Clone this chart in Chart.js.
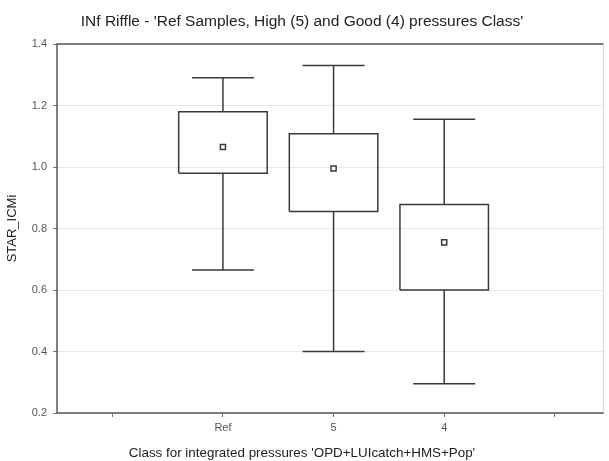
<!DOCTYPE html>
<html lang="en">
<head>
<meta charset="UTF-8">
<title>INf Riffle box plot</title>
<script src="https://cdn.jsdelivr.net/npm/chart.js"></script>
<style>
  html, body { margin: 0; padding: 0; background: #fff; }
  #wrap { width: 609px; height: 461px; }
</style>
</head>
<body>
<div id="wrap"><canvas id="boxChart"></canvas></div>
<script>
// data
const categories = ['Ref', '5', '4'];
const positions = [2, 3, 4];
const whiskerLow = [0.665, 0.40, 0.295];
const boxLow = [0.98, 0.855, 0.60];
const means = [1.065, 0.995, 0.755];
const boxHigh = [1.18, 1.108, 0.878];
const whiskerHigh = [1.29, 1.33, 1.155];
const xTickValues = [1, 2, 3, 4, 5];
const yTickValues = [0.2, 0.4, 0.6, 0.8, 1.0, 1.2, 1.4];

const boxHalf = 0.4;
const capHalf = 0.28;
const lineColor = '#3a3a3a';
const font = 'Liberation Sans, Arial, sans-serif';

// outline of each box with whiskers, gaps split the segments
function boxOutline(i) {
  const p = positions[i];
  const gap = { x: p, y: null };
  return [
    { x: p - boxHalf, y: boxLow[i] }, { x: p + boxHalf, y: boxLow[i] },
    { x: p + boxHalf, y: boxHigh[i] }, { x: p - boxHalf, y: boxHigh[i] },
    { x: p - boxHalf, y: boxLow[i] }, gap,
    { x: p, y: boxHigh[i] }, { x: p, y: whiskerHigh[i] }, gap,
    { x: p - capHalf, y: whiskerHigh[i] }, { x: p + capHalf, y: whiskerHigh[i] }, gap,
    { x: p, y: boxLow[i] }, { x: p, y: whiskerLow[i] }, gap,
    { x: p - capHalf, y: whiskerLow[i] }, { x: p + capHalf, y: whiskerLow[i] }
  ];
}

const datasets = categories.map((c, i) => ({
  label: c,
  data: boxOutline(i),
  showLine: true,
  spanGaps: false,
  borderColor: lineColor,
  borderWidth: 1.5,
  pointRadius: 0,
  fill: false
}));

datasets.push({
  label: 'mean',
  data: positions.map((p, i) => ({ x: p, y: means[i] })),
  pointStyle: 'rect',
  pointRadius: 3.6,
  pointBorderWidth: 1.5,
  pointBorderColor: lineColor,
  pointBackgroundColor: '#fff',
  showLine: false
});

const frame = {
  id: 'frame',
  afterDatasetsDraw(chart) {
    const a = chart.chartArea;
    const ctx = chart.ctx;
    ctx.save();
    ctx.strokeStyle = '#d8d8d8';
    ctx.lineWidth = 1;
    ctx.beginPath();
    ctx.moveTo(a.right, a.top);
    ctx.lineTo(a.right, a.bottom);
    ctx.stroke();
    ctx.strokeStyle = '#555';
    ctx.lineWidth = 1.5;
    ctx.beginPath();
    ctx.moveTo(a.right, a.top);
    ctx.lineTo(a.left, a.top);
    ctx.lineTo(a.left, a.bottom);
    ctx.lineTo(a.right, a.bottom);
    ctx.stroke();
    ctx.restore();
  }
};

new Chart(document.getElementById('boxChart'), {
  type: 'scatter',
  data: { datasets },
  options: {
    responsive: true,
    maintainAspectRatio: false,
    animation: false,
    layout: { padding: { left: 0, right: 5, top: 0, bottom: 0 } },
    plugins: {
      legend: { display: false },
      tooltip: { enabled: false },
      title: {
        display: true,
        text: "INf Riffle - 'Ref Samples, High (5) and Good (4) pressures Class'",
        color: '#222',
        font: { family: font, size: 15.5, weight: 'normal' },
        padding: { top: 12, bottom: 13.4 }
      },
      // x axis title, centred on the whole canvas like the original
      subtitle: {
        display: true,
        position: 'bottom',
        text: "Class for integrated pressures 'OPD+LUIcatch+HMS+Pop'",
        color: '#222',
        font: { family: font, size: 13.4 },
        padding: { top: 0, bottom: 0 }
      }
    },
    scales: {
      x: {
        type: 'linear',
        min: 0.5,
        max: 5.44,
        afterBuildTicks: s => { s.ticks = xTickValues.map(v => ({ value: v })); },
        afterFit: s => { s.height = 31.9; },
        border: { display: false },
        grid: { drawOnChartArea: false, tickLength: 4, color: '#777' },
        ticks: {
          color: '#555',
          font: { family: font, size: 11 },
          padding: 4,
          callback: v => {
            const i = positions.indexOf(v);
            return i >= 0 ? categories[i] : '';
          }
        }
      },
      y: {
        min: 0.2,
        max: 1.4,
        afterBuildTicks: s => { s.ticks = yTickValues.map(v => ({ value: v })); },
        afterFit: s => { s.width = 57; },
        border: { display: false },
        grid: { color: '#e8e8e8', tickLength: 4, tickColor: '#777' },
        ticks: {
          color: '#555',
          font: { family: font, size: 11 },
          padding: 6,
          callback: v => v.toFixed(1)
        },
        title: {
          display: true,
          text: 'STAR_ICMi',
          color: '#222',
          font: { family: font, size: 13 },
          padding: { top: 5, bottom: 0 }
        }
      }
    }
  },
  plugins: [frame]
});
</script>
</body>
</html>
